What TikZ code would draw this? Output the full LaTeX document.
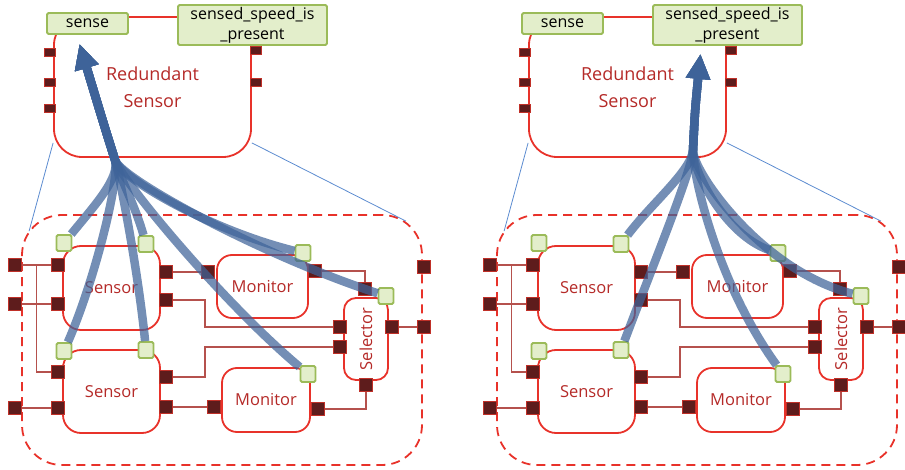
\documentclass[tikz,border=0pt]{standalone}
\usepackage{fontspec}
\setmainfont{Open Sans}
\usetikzlibrary{calc,arrows.meta}
\definecolor{boxred}{HTML}{E8322A}
\definecolor{labelred}{HTML}{B52A28}
\definecolor{wirered}{HTML}{B5514D}
\definecolor{portdark}{HTML}{5E1C1C}
\definecolor{portedge}{HTML}{C03028}
\definecolor{flowgreen}{HTML}{9BBB59}
\definecolor{flowfill}{HTML}{E3EECB}
\definecolor{zoomblue}{HTML}{5B8BD0}
\definecolor{flowblue}{HTML}{3E6399}
\tikzset{
% component blocks and the two kinds of ports
comp node/.style={draw=boxred,line width=1.8pt,fill=white,text=labelred,align=center,inner sep=0pt,font=\fontsize{16.5}{20}\selectfont},
data port/.style={draw=flowgreen,fill=flowfill,line width=1.8pt,rounded corners=1.5pt,inner sep=0pt,minimum width=15pt,minimum height=16pt,font=\fontsize{16}{20}\selectfont},
event port/.style={draw=portedge,fill=portdark,line width=0.8pt,inner sep=0pt,minimum size=13pt},
small port/.style={draw=portedge,fill=portdark,line width=0.6pt,inner sep=0pt,minimum width=11pt,minimum height=8pt},
wire/.style={draw=wirered,line width=1.4pt},
zoom line/.style={draw=zoomblue,line width=0.8pt},
flow/.style={draw=flowblue,line width=8.5pt,opacity=0.72,-{Triangle[length=25pt,width=23pt]}}
}
\begin{document}
\begin{tikzpicture}[x=1pt,y=-1pt]
\useasboundingbox (0,0) rectangle (905,470);
\foreach \pn/\dx in {l/0,r/475}{
\begin{scope}[xshift=\dx]
% expanded view of the redundant sensor
\node[draw=boxred,dashed,dash pattern=on 9pt off 6pt,line width=1.8pt,rounded corners=40pt,minimum width=400pt,minimum height=250pt] (\pn-zoom) at (222,340) {};
\node[comp node,rounded corners=28pt,minimum width=197pt,minimum height=140pt,font=\fontsize{18}{27}\selectfont] (\pn-rs) at (152.5,87) {Redundant\\Sensor};
\draw[zoom line] ($(\pn-rs.south west)+(0,-15)$) -- ($(\pn-zoom.north west)+(8,17)$);
\draw[zoom line] ($(\pn-rs.south east)+(0,-15)$) -- ($(\pn-zoom.north east)+(-17,7)$);
\node[data port,minimum width=81pt,minimum height=21pt] (\pn-sense) at (87.5,23.5) {sense};
\node[data port,minimum width=149pt,minimum height=40pt,align=center] (\pn-ssp) at (252.5,25) {sensed\_speed\_is\\\_present};
\node[small port] (\pn-rsl1) at (50,52) {};
\node[small port] (\pn-rsl2) at (50,82) {};
\node[small port] (\pn-rsl3) at (50,108) {};
\node[small port] (\pn-rsr1) at (256,50) {};
\node[small port] (\pn-rsr2) at (256,82) {};

\node[comp node,rounded corners=18pt,minimum width=97pt,minimum height=84pt] (\pn-s1) at (111.5,288) {Sensor};
\node[comp node,rounded corners=18pt,minimum width=97pt,minimum height=83pt] (\pn-s2) at (111.5,391.5) {Sensor};
\node[comp node,rounded corners=15pt,minimum width=91pt,minimum height=63pt] (\pn-m1) at (262.5,286.5) {Monitor};
\node[comp node,rounded corners=15pt,minimum width=88pt,minimum height=64pt] (\pn-m2) at (266,400) {Monitor};
\node[comp node,rounded corners=12pt,rotate=90,minimum width=82pt,minimum height=44pt] (\pn-sel) at (366,339) {Selector};

\node[data port] (\pn-s1tl) at (64,243) {};
\node[data port] (\pn-s1tr) at (146,244) {};
\node[data port] (\pn-s2tl) at (64,351) {};
\node[data port] (\pn-s2tr) at (146,350) {};
\node[data port] (\pn-m1p) at (303,253) {};
\node[data port] (\pn-selp) at (386,296) {};
\node[data port] (\pn-m2p) at (308,374) {};

\node[event port] (\pn-ol1) at (15,265) {};
\node[event port] (\pn-ol2) at (15,304) {};
\node[event port] (\pn-ol3) at (15,408) {};
\node[event port] (\pn-s1l1) at (58,265) {};
\node[event port] (\pn-s1l2) at (58,304) {};
\node[event port] (\pn-s2l1) at (58,372) {};
\node[event port] (\pn-s2l2) at (58,408) {};
\node[event port] (\pn-s1r1) at (166,272) {};
\node[event port] (\pn-s1r2) at (166,300) {};
\node[event port] (\pn-s2r1) at (166,377) {};
\node[event port] (\pn-s2r2) at (166,407) {};
\node[event port] (\pn-m1l) at (208,272) {};
\node[event port] (\pn-m1r) at (315,271) {};
\node[event port] (\pn-m2l) at (214,407) {};
\node[event port] (\pn-m2r) at (318,409) {};
\node[event port] (\pn-selt) at (365,289) {};
\node[event port] (\pn-sell1) at (340,327) {};
\node[event port] (\pn-sell2) at (340,347) {};
\node[event port] (\pn-selr) at (392,327) {};
\node[event port] (\pn-selb) at (366,385) {};
\node[event port] (\pn-or1) at (424,267) {};
\node[event port] (\pn-or2) at (424,327) {};

\draw[wire] (\pn-ol1) -- (\pn-s1l1);
\draw[wire] (\pn-s2l1) -| ($(\pn-ol1)!0.5!(\pn-s1l1)$);
\draw[wire] (\pn-ol2) -- (\pn-s1l2);
\draw[wire] (\pn-ol3) -- (\pn-s2l2);
\draw[wire] (\pn-s1r1) -- (\pn-m1l);
\draw[wire] (\pn-s1r2.east) -- ++(32,0) |- (\pn-sell1);
\draw[wire] (\pn-s2r1.east) -- ++(32,0) |- (\pn-sell2);
\draw[wire] (\pn-s2r2) -- (\pn-m2l);
\draw[wire] (\pn-m1r) -| (\pn-selt);
\draw[wire] (\pn-m2r) -| (\pn-selb);
\draw[wire] (\pn-selr) -- (\pn-or2);
\end{scope}
}

% data flowing up into sense (left)
\coordinate (l-tip) at ($(l-sense.south)+(-8,9)$);
\coordinate (l-merge) at (115,160);
\draw[flow] (l-s1tl) .. controls (95,205) and (120,178) .. (l-merge) .. controls (104,125) .. (l-tip);
\draw[flow] (l-s1tr) .. controls (135,205) and (120,178) .. (l-merge) .. controls (104,125) .. (l-tip);
\draw[flow] (l-s2tl) .. controls (95,280) and (120,178) .. (l-merge) .. controls (104,125) .. (l-tip);
\draw[flow] (l-s2tr) .. controls (138,270) and (120,178) .. (l-merge) .. controls (104,125) .. (l-tip);
\draw[flow] (l-m1p) .. controls (210,230) and (120,178) .. (l-merge) .. controls (104,125) .. (l-tip);
\draw[flow] (l-selp) .. controls (260,255) and (120,178) .. (l-merge) .. controls (104,125) .. (l-tip);
\draw[flow] (l-m2p) .. controls (220,300) and (120,178) .. (l-merge) .. controls (104,125) .. (l-tip);

% data flowing up into sensed_speed_is_present (right)
\coordinate (r-tip) at ($(r-ssp.south)+(-27,8)$);
\coordinate (r-merge) at (693,150);
\draw[flow] (r-s1tr) .. controls (650,205) and (692,170) .. (r-merge) .. controls (695,110) .. (r-tip);
\draw[flow] (r-s2tr) .. controls (655,260) and (692,170) .. (r-merge) .. controls (695,110) .. (r-tip);
\draw[flow] (r-m1p) .. controls (725,235) and (692,170) .. (r-merge) .. controls (695,110) .. (r-tip);
\draw[flow] (r-selp) .. controls (760,270) and (692,170) .. (r-merge) .. controls (695,110) .. (r-tip);
\draw[flow] (r-m2p) .. controls (715,280) and (692,170) .. (r-merge) .. controls (695,110) .. (r-tip);
\end{tikzpicture}
\end{document}
